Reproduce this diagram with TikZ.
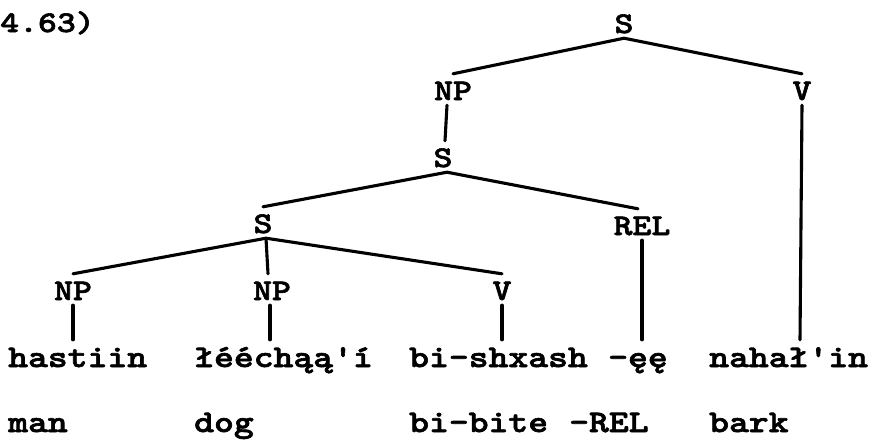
\documentclass[tikz,border=0pt]{standalone}
\usepackage{fontspec}
\newfontfamily\cour{lmmonolt10-bold.otf}[FakeStretch=1.2, FakeBold=2]
\tikzset{
  lab/.style={font=\cour\fontsize{30}{30}\selectfont, anchor=base, inner xsep=2pt, inner ysep=5pt, text height=21pt, text depth=0pt},
  word/.style={font=\cour\fontsize{31.5}{31.5}\selectfont, anchor=base west, inner sep=0pt, text height=27pt, text depth=0pt},
  edge/.style={line width=3.1pt, line cap=round}
}
\begin{document}
\begin{tikzpicture}[x=1pt,y=-1pt]
\useasboundingbox (0,0) rectangle (875,440);
% example number
\node[font=\cour\fontsize{30}{30}\selectfont, anchor=base west, inner sep=0pt] (num) at (0,32) {4.63)};
% category labels
\node[lab] (S0) at (624,33) {S};
\node[lab] (NP0) at (453,100) {NP};
\node[lab] (V0) at (802,100) {V};
\node[lab] (S1) at (443,167) {S};
\node[lab] (S2) at (263,233) {S};
\node[lab] (REL) at (642,235) {REL};
\node[lab] (NP1) at (73,300) {NP};
\node[lab] (NP2) at (272,300) {NP};
\node[lab] (V1) at (502,300) {V};
% words
\node[word] (w1) at (8,367) {hastiin};
\node[word] (w2) at (194,367) {łééchąą'í};
\node[word] (w3) at (409,367) {bi-shxash};
\node[word] (w4) at (608,367) {-ęę};
\node[word] (w5) at (709,367) {nahał'in};
% glosses
\node[word] (g1) at (8,432) {man};
\node[word] (g2) at (194,432) {dog};
\node[word] (g3) at (409,432) {bi-bite};
\node[word] (g4) at (569,432) {-REL};
\node[word] (g5) at (709,432) {bark};
% branches
\draw[edge] (S0.south) -- (NP0.north);
\draw[edge] (S0.south) -- (V0.north);
\draw[edge] ([xshift=-6pt]NP0.south) -- ([xshift=2pt]S1.north);
\draw[edge] ([xshift=4pt]S1.south) -- (S2.north);
\draw[edge] ([xshift=4pt]S1.south) -- ([xshift=-4pt]REL.north);
\draw[edge] ([xshift=3pt]S2.south) -- (NP1.north);
\draw[edge] ([xshift=3pt]S2.south) -- ([xshift=-4pt]NP2.north);
\draw[edge] ([xshift=3pt]S2.south) -- (V1.north);
% terminal lines
\draw[edge] (NP1.south) -- (NP1.south |- w1.north);
\draw[edge] ([xshift=-2pt]NP2.south) -- ([xshift=-2pt]NP2.south |- w2.north);
\draw[edge] (V1.south) -- (V1.south |- w3.north);
\draw[edge] (REL.south) -- (REL.south |- w4.north);
\draw[edge] (V0.south) -- ([xshift=-2pt]V0.south |- w5.north);
\end{tikzpicture}
\end{document}
